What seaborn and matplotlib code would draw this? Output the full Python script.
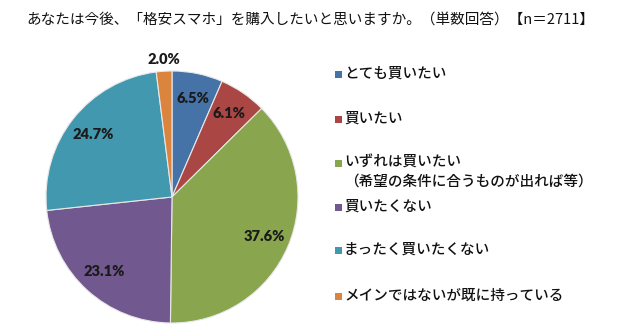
import numpy as np
import matplotlib
matplotlib.use("Agg")
import matplotlib.pyplot as plt
from matplotlib.patches import Rectangle
import seaborn as sns

sns.set_theme(style="white")
plt.rcParams['font.family'] = ['Noto Sans CJK JP', 'DejaVu Sans']

title = "あなたは今後、「格安スマホ」を購入したいと思いますか。（単数回答）【n＝2711】"
categories = [
    "とても買いたい",
    "買いたい",
    "いずれは買いたい\n（希望の条件に合うものが出れば等）",
    "買いたくない",
    "まったく買いたくない",
    "メインではないが既に持っている",
]
values = [6.5, 6.1, 37.6, 23.1, 24.7, 2.0]
colors = ["#4572A7", "#AA4643", "#89A54E", "#71588F", "#4198AF", "#DB843D"]

W, H = 620, 333
fig = plt.figure(figsize=(W / 100, H / 100), dpi=100)

# pie axes: centre (172, 197) px, radius 126 px
cx, cy, r = 172, 197, 126
ax = fig.add_axes([(cx - r) / W, (H - cy - r) / H, 2 * r / W, 2 * r / H])
wedges, _, autotexts = ax.pie(
    values, colors=colors, startangle=90, counterclock=False,
    autopct=lambda p: "", pctdistance=0.8,
    wedgeprops=dict(edgecolor="#e8e8e8", linewidth=0.8),
)
ax.set_xlim(-1, 1)
ax.set_ylim(-1, 1)
ax.set_aspect("equal")

for w, t, v in zip(wedges, autotexts, values):
    ang = np.deg2rad((w.theta1 + w.theta2) / 2)
    dist = 1.09 if v < 3 else 0.8
    t.set_position((dist * np.cos(ang), dist * np.sin(ang)))
    t.set_text(f"{v:.1f}%")
    t.set_fontsize(10.5)
    t.set_fontweight("heavy")
    t.set_family(["Lato", "DejaVu Sans"])
    t.set_color("#1a1a1a")
    t.set_ha("center")
    t.set_va("center")

fig.text(0.5, 1 - 20 / H, title, ha="center", va="center",
         fontsize=10.5, color="#111111")

# legend rows
row_y = [74, 119, 163, 207, 250, 296]
sq = 7
for lab, col, y in zip(categories, colors, row_y):
    fig.patches.append(Rectangle((335 / W, (H - y - sq / 2) / H), sq / W, sq / H,
                                 transform=fig.transFigure, facecolor=col,
                                 edgecolor="none"))
    lines = lab.split("\n")
    for k, line in enumerate(lines):
        fig.text(344 / W, 1 - (y + k * 19) / H, line, ha="left", va="center",
                 fontsize=10.5, fontweight="medium", color="#111111")

fig.savefig("out.png", dpi=100, facecolor="white")
